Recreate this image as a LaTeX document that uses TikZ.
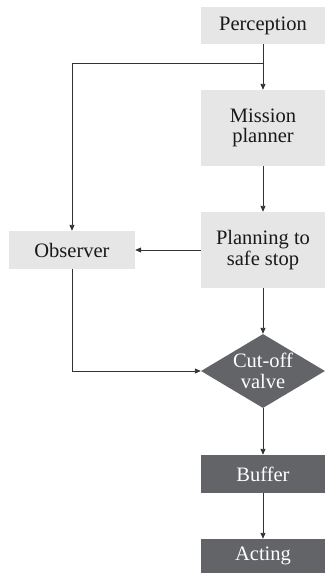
\documentclass[tikz,border=0pt]{standalone}
\usepackage{fontspec}
\setmainfont{Liberation Serif}
\usetikzlibrary{arrows.meta,shapes.geometric}
\definecolor{lightbox}{HTML}{E6E6E7}
\definecolor{darkbox}{HTML}{636468}
\definecolor{linec}{HTML}{333333}
\begin{document}
\begin{tikzpicture}[x=1pt,y=-1pt,
  every node/.style={font=\fontsize{20.5}{20.5}\selectfont, align=center, inner sep=0pt},
  lbox/.style={rectangle, fill=lightbox, text=black!90, minimum width=124pt},
  dbox/.style={rectangle, fill=darkbox, text=white, minimum width=124pt},
  valvebox/.style={diamond, fill=darkbox, minimum width=124pt, minimum height=74pt, inner sep=0pt, shape aspect=1.68},
  conn/.style={draw=linec, line width=0.9pt, -{Triangle[length=6pt,width=5pt]}},
  plain/.style={draw=linec, line width=0.9pt}]
\useasboundingbox (0,0) rectangle (325,573);
\node[lbox, minimum height=37pt] (perc) at (263,25.5) {Perception};
\node[lbox, minimum height=76pt] (mission) at (263,128) {Mission\\planner};
\node[lbox, minimum height=76pt] (plan) at (263,250) {Planning to\\safe stop};
\node[lbox, minimum width=126pt, minimum height=38pt] (obs) at (72,250) {Observer};
\node[valvebox] (valve) at (263,371) {};
\node[text=white] (valvetext) at (263,371) {Cut-off\\valve};
\node[dbox, minimum height=38pt] (buf) at (263,474) {Buffer};
\node[dbox, minimum height=34pt] (act) at (263,556) {Acting};
\coordinate (j) at (263,63);
\draw[conn] (perc.south) -- (mission.north);
\draw[conn] (j) -| (obs.north);
\draw[conn] (mission.south) -- (plan.north);
\draw[conn] (plan.west) -- (obs.east);
\draw[conn] (obs.south) |- (valve.west);
\draw[conn] (plan.south) -- (valve.north);
\draw[conn] (valve.south) -- (buf.north);
\draw[conn] (buf.south) -- (act.north);
\end{tikzpicture}
\end{document}
